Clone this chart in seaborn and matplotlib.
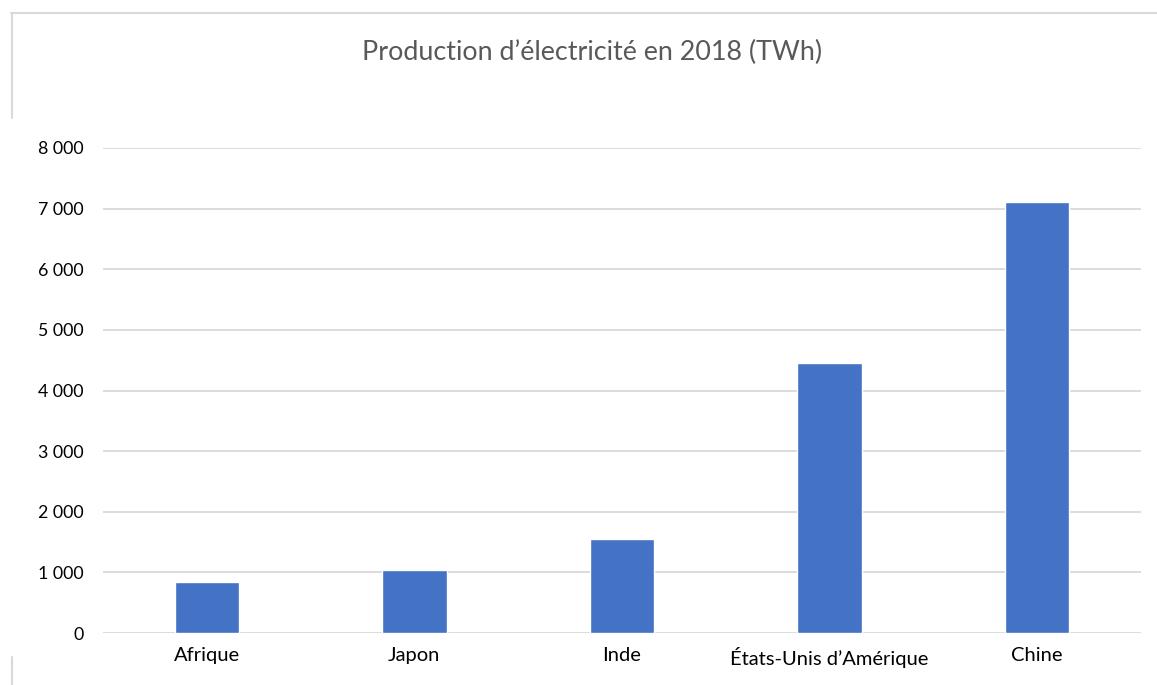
import matplotlib
matplotlib.use("Agg")
import matplotlib.pyplot as plt
import seaborn as sns
import pandas as pd
from matplotlib.lines import Line2D
from matplotlib.ticker import FuncFormatter

# Data
pays = ["Afrique", "Japon", "Inde", "États-Unis d’Amérique", "Chine"]
production_twh = [836, 1039, 1545, 4449, 7114]
y_ticks = [0, 1000, 2000, 3000, 4000, 5000, 6000, 7000, 8000]

df = pd.DataFrame({"Pays": pays, "TWh": production_twh})

sns.set_style("white")
plt.rcParams["font.family"] = ["Lato", "DejaVu Sans"]

fig = plt.figure(figsize=(11.57, 6.85), dpi=100)
ax = fig.add_axes([103 / 1157, 1 - 633 / 685, (1141 - 103) / 1157, (633 - 148) / 685])

sns.barplot(data=df, x="Pays", y="TWh", color="#4472C4", width=0.31,
            saturation=1, ax=ax)

ax.set_ylim(0, 8000)
ax.set_yticks(y_ticks)
ax.yaxis.set_major_formatter(FuncFormatter(lambda v, p: f"{int(v):,}".replace(",", " ")))
ax.grid(axis="y", color="#D9D9D9", linewidth=1.3)
ax.set_axisbelow(True)
for s in ax.spines.values():
    s.set_visible(False)
ax.tick_params(axis="y", length=0, pad=14, labelsize=12.8, labelcolor="#000000")
ax.tick_params(axis="x", length=0, pad=10, labelsize=14.5, labelcolor="#000000")
ax.set_xlabel("")
ax.set_ylabel("")

fig.text(592 / 1157, 1 - 52 / 685, "Production d’électricité en 2018 (TWh)",
         ha="center", va="center", fontsize=19.4, color="#595959")

# partial chart-area border as seen in the screenshot
border = "#D9D9D9"
fig.add_artist(Line2D([11 / 1157, 1], [1 - 13 / 685, 1 - 13 / 685], color=border, lw=1.5))
fig.add_artist(Line2D([12 / 1157, 12 / 1157], [1 - 13 / 685, 1 - 118 / 685], color=border, lw=1.5))
fig.add_artist(Line2D([12 / 1157, 12 / 1157], [1 - 657 / 685, 0], color=border, lw=1.5))

fig.savefig("out.png", dpi=100)
